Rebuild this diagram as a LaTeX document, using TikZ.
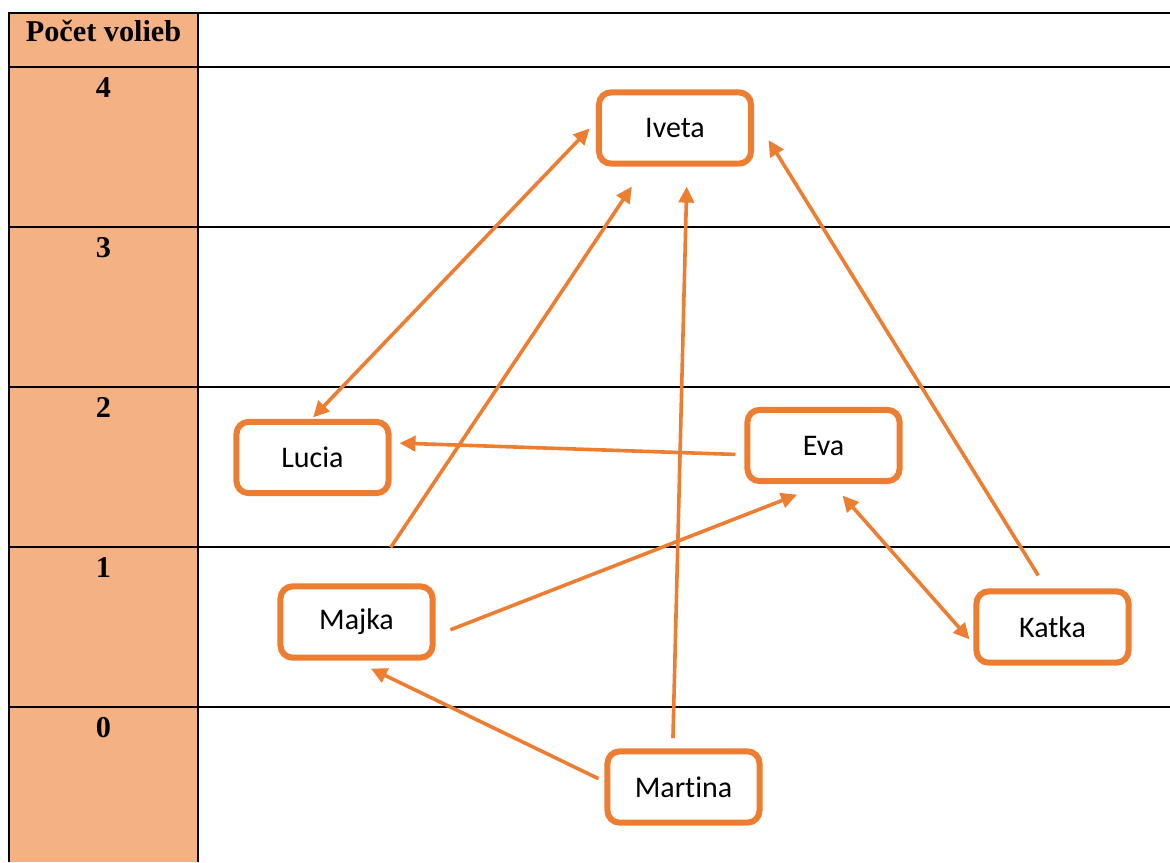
\documentclass[tikz,border=0pt]{standalone}
\usepackage{fontspec}
\setmainfont{Liberation Serif}
\newfontfamily\boxfont[Ligatures=NoCommon]{Carlito}
\usetikzlibrary{arrows.meta}
\definecolor{tabfill}{HTML}{F4B183}
\definecolor{boxorange}{HTML}{ED7D31}
\tikzstyle{tabline}=[black,line width=0.07cm]
\tikzstyle{tabtext}=[anchor=base,font=\bfseries\fontsize{21.5}{26}\selectfont]
\tikzstyle{namebox}=[draw=boxorange,line width=0.15cm,fill=white,rounded corners=0.3cm,minimum width=3.8cm,minimum height=1.78cm,inner sep=0pt,outer sep=0pt,font=\boxfont\fontsize{21.3}{25}\selectfont]
\tikzstyle{myarrow}=[boxorange,line width=0.09cm,-{Triangle[length=0.4cm,width=0.38cm]}]
\tikzstyle{dblarrow}=[myarrow,{Triangle[length=0.4cm,width=0.38cm]}-{Triangle[length=0.4cm,width=0.38cm]}]

\begin{document}
\begin{tikzpicture}[x=0.025cm,y=-0.025cm]
		\useasboundingbox (0,0) rectangle (1170,862);
		\fill[tabfill] (9,13) rectangle (198,862);

		\draw[tabline] (9,862) -- (9,13) -- (1170,13);
		\draw[tabline] (198,13) -- (198,862);
		\foreach \y in {67,227,387,547,707} { \draw[tabline] (9,\y) -- (1170,\y);}

		\node[tabtext] (head) at (103.5,41.7) {Počet volieb};
		\foreach \y / \n in {67/4,227/3,387/2,547/1,707/0} {\node[tabtext] (num\n) at (103.5,{\y+30.5}) {\n};}

		\node[namebox] (iveta) at (675,128) {Iveta};
		\node[namebox] (lucia) at (312.5,457.5) {Lucia};
		\node[namebox] (eva) at (823.5,445.5) {Eva};
		\node[namebox] (majka) at (356.5,622) {Majka};
		\node[namebox] (katka) at (1052.5,627) {Katka};
		\node[namebox] (martina) at (683.5,787) {Martina};

		\draw[dblarrow,shorten <=0.155cm,shorten >=0.34cm] (lucia.96) -- (iveta.173);
		\draw[myarrow,shorten <=1.17cm,shorten >=0.69cm] (majka.77) -- (iveta.232);
		\draw[myarrow,shorten <=0.33cm,shorten >=0.575cm] (martina.107) -- (iveta.289);
		\draw[myarrow,shorten <=0.47cm,shorten >=0.83cm] (katka.97) -- (iveta.12);
		\draw[myarrow,shorten <=0.30cm,shorten >=0.275cm] (eva.187) -- (lucia.11);
		\draw[myarrow,shorten <=0.48cm,shorten >=0.93cm] (majka.349) -- (eva.283);
		\draw[dblarrow,shorten <=0.48cm,shorten >=0.265cm] (eva.280) -- (katka.195);
		\draw[myarrow,shorten <=0.25cm,shorten >=0.63cm] (martina.177) -- (majka.257);
	\end{tikzpicture}
\end{document}
